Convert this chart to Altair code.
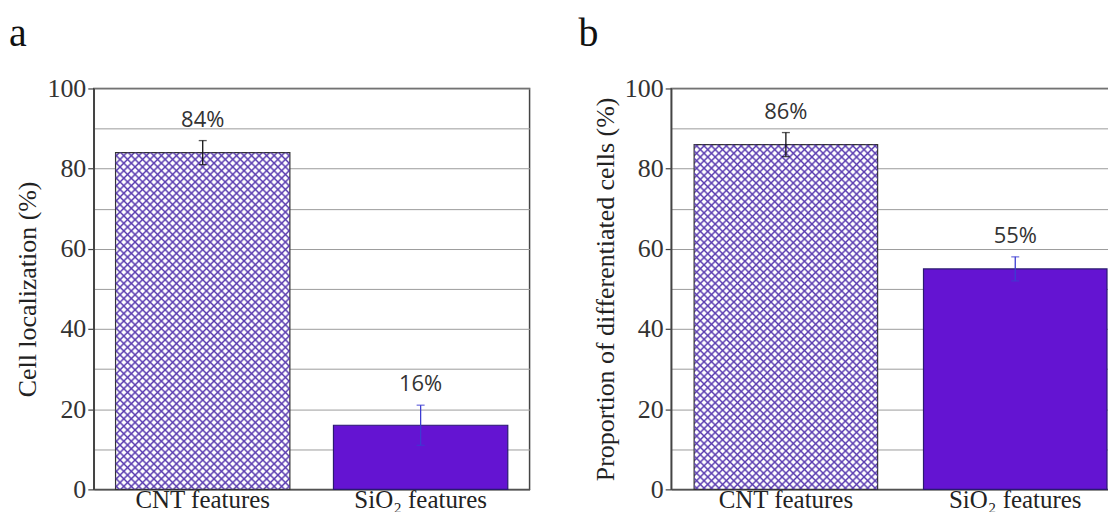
import altair as alt
import pandas as pd

# ---------------- data ----------------
categories = ["CNT features", "SiO₂ features"]
a_values = [84, 16]
a_errors = [3, 5]
b_values = [86, 55]
b_errors = [3, 3]
y_tick_values = [0, 10, 20, 30, 40, 50, 60, 70, 80, 90, 100]
a_title = "Cell localization (%)"
b_title = "Proportion of differentiated cells (%)"

# ---------------- styles ----------------
SERIF = "Liberation Serif, Times New Roman, Tinos, DejaVu Serif, serif"
SANS = "Open Sans, Noto Sans, DejaVu Sans, sans-serif"
SIO_FILL = "#6414d2"
HATCH_LINE = "#5a3cb0"
CNT_ERR = "#111111"
SIO_ERR = "#3c3cd2"
EDGE = "#333333"


def hatch(w, h, spacing, base, direction):
    """Linear-gradient stripes at 45 degrees (object bounding box units)."""
    r = w / h
    k = (r + 1) / (r * r + 1)
    n = int(round((w + h) / 2 ** 0.5 / spacing))
    stops = []
    for i in range(n):
        stops.append({"offset": i / n, "color": base})
        stops.append({"offset": (i + 0.22) / n, "color": base})
        stops.append({"offset": (i + 0.5) / n, "color": HATCH_LINE})
        stops.append({"offset": (i + 0.78) / n, "color": base})
    stops.append({"offset": 1, "color": base})
    if direction == 1:
        x1, y1, x2, y2 = 0, 0, r * k, k
    else:
        x1, y1, x2, y2 = 1, 0, 1 - r * k, k
    return {"gradient": "linear", "stops": stops,
            "x1": x1, "y1": y1, "x2": x2, "y2": y2}


def panel(values, errors, ytitle, letter, width, height, letter_dx):
    df = pd.DataFrame({"cat": categories, "v": values, "e": errors})
    df["lo"] = df["v"] - df["e"]
    df["hi"] = df["v"] + df["e"]
    df["lab"] = [f"{v}%" for v in values]
    df["ecol"] = [CNT_ERR, SIO_ERR]

    x = alt.X(
        "cat:N", sort=categories, title=None,
        scale=alt.Scale(paddingInner=0.2, paddingOuter=0.1),
        axis=alt.Axis(labelAngle=0, ticks=False, grid=False),
    )
    yscale = alt.Scale(domain=[0, 100], nice=False)
    y = alt.Y(
        "v:Q", scale=yscale, title=ytitle,
        axis=alt.Axis(
            values=y_tick_values,
            labelExpr="datum.value % 20 == 0 ? datum.label : ''",
            grid=True,
            tickOpacity={"condition": {"test": "datum.value % 20 != 0",
                                       "value": 0}, "value": 1},
        ),
    )

    band = width / (2 - 0.2 + 0.2) * 0.8
    bar_h = values[0] / 100 * height
    spacing = 5.3

    base = alt.Chart(df).encode(x=x)
    cnt = base.transform_filter(alt.datum.cat == categories[0])
    sio = base.transform_filter(alt.datum.cat == categories[1])

    hatch_a = cnt.mark_bar(
        fill=hatch(band, bar_h, spacing, "#ffffff", 1),
        stroke=EDGE, strokeWidth=1.2).encode(y=y)
    hatch_b = cnt.mark_bar(
        fill=hatch(band, bar_h, spacing, "rgba(90,60,176,0)", 2),
        strokeWidth=0).encode(y=alt.Y("v:Q", scale=yscale))
    solid = sio.mark_bar(color=SIO_FILL, stroke="#2a1a70",
                         strokeWidth=1.2).encode(
        y=alt.Y("v:Q", scale=yscale))
    ecolor = alt.Color("ecol:N", scale=None)
    rule = base.mark_rule(strokeWidth=1.3).encode(
        y=alt.Y("lo:Q", scale=yscale), y2="hi:Q", color=ecolor)
    cap_hi = base.mark_tick(size=8, thickness=1.3).encode(
        y=alt.Y("hi:Q", scale=yscale), color=ecolor)
    cap_lo = base.mark_tick(size=8, thickness=1.3).encode(
        y=alt.Y("lo:Q", scale=yscale), color=ecolor)
    text = base.mark_text(dy=-21, font=SANS, fontSize=22, color="#333",
                          baseline="middle").encode(
        y=alt.Y("hi:Q", scale=yscale), text="lab:N")

    return alt.layer(hatch_a, hatch_b, solid, rule, cap_hi, cap_lo,
                     text).properties(
        width=width, height=height,
        title=alt.TitleParams(letter, anchor="start", frame="group",
                              font=SERIF, fontSize=40,
                              fontWeight="normal", color="#111",
                              dx=letter_dx, offset=22),
    )


pa = panel(a_values, a_errors, a_title, "a", 437, 402, -85)
pb = panel(b_values, b_errors, b_title, "b", 460, 402, -93)

chart = alt.hconcat(pa, pb, spacing=47).properties(
    padding={"left": 0, "top": 4, "right": -23, "bottom": -2},
    background="white",
).configure_view(
    stroke="#444", strokeWidth=1.5
).configure_axis(
    labelFont=SERIF, titleFont=SERIF, labelFontSize=26, titleFontSize=26,
    labelColor="#333", titleColor="#222", titleFontWeight="normal",
    domainColor="#444", domainWidth=1.5, tickColor="#444", tickWidth=1.2,
    tickSize=6, gridColor="#9c9c9c", gridWidth=1, labelPadding=2,
    titlePadding=6,
).configure_axisX(
    labelFontSize=25, labelColor="#222", labelPadding=-2,
).configure_title(font=SERIF)

chart.save("out.html", embed_options={"renderer": "svg", "actions": False})
